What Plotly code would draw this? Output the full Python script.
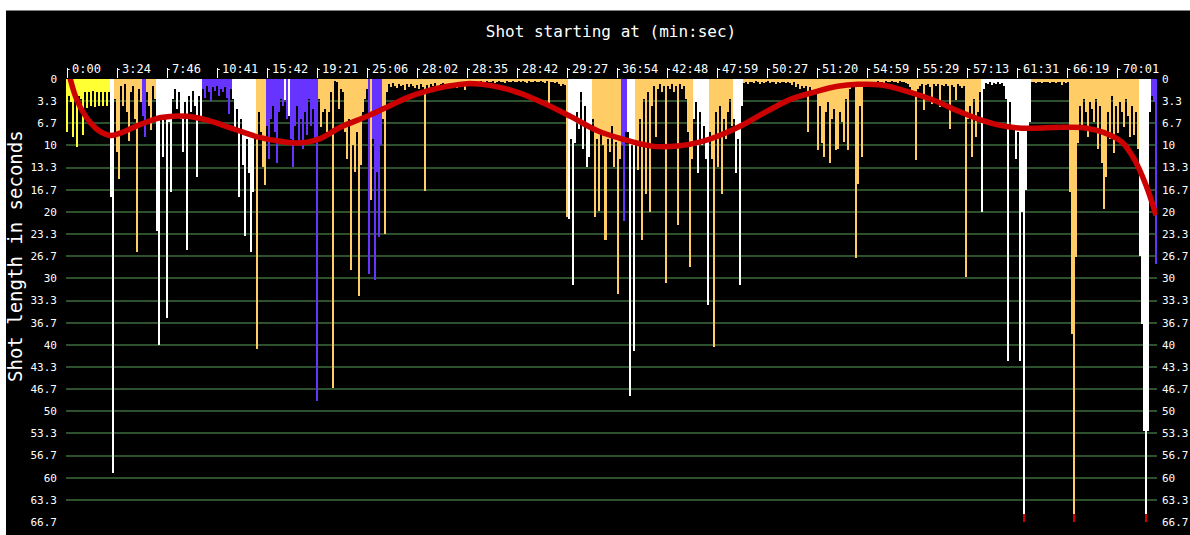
import plotly.graph_objects as go

# ---- colours of the scene groups ----
YEL = "#ffff33"
ORA = "#ffcc66"
WHT = "#ffffff"
BLU = "#6633ff"

# ---- shot lengths (seconds), grouped by scene colour, in shot order ----
s01_y = [8.0, 2.5, 3.5, 8.7, 2.2, 10.3, 2.5, 3.0, 8.4, 2.0, 4.3, 2.0, 4.0, 1.8, 4.2, 2.0, 4.0, 1.9, 4.1, 2.0, 4.0, 2.0]
s02_w = [17.8, 59.3]
s03_o = [3.0, 11.0, 15.0, 1.0, 4.0, 0.8, 5.0, 9.4, 2.0, 1.0, 6.0, 26.0, 1.5, 3.5]
s04_b = [5.5, 8.7]
s05_o = [2.0, 4.0, 7.7, 1.0, 3.0]
s06_w = [22.9, 40.0, 6.0, 11.7, 5.5, 36.0, 6.5, 17.0, 3.0, 1.5, 4.5, 2.0, 6.0, 11.0, 3.5, 25.8, 2.5, 5.0, 1.8, 4.0, 14.8, 2.5, 6.0]
s07_b = [1.5, 2.8, 1.0, 2.0, 3.3, 1.2, 1.8, 1.0, 2.5, 1.5, 2.0, 1.2, 2.8, 5.2, 1.5]
s08_w = [3.0, 8.0, 4.5, 17.8, 6.0, 13.0, 23.6, 9.0, 14.2, 26.0, 17.0, 8.6]
s09_o = [40.6, 5.0, 8.0, 13.2, 15.9]
s10_b = [7.0, 12.0, 6.0, 4.0, 8.0, 12.7, 5.0, 3.0, 4.0]
s11_w = [3.2]
s12_b = [6.0]
s13_w = [5.5]
s14_b = [9.0, 13.2, 7.0, 4.0, 9.5, 6.0, 10.5, 5.0, 8.5, 3.0, 7.0, 4.5, 9.0, 48.4]
s15_o = [3.0, 7.2, 5.0, 4.5, 8.0, 5.0, 2.0, 46.5, 0.3, 0.4, 4.5, 1.5, 2.0, 8.0, 12.0, 6.0, 28.8, 10.0, 14.0, 8.0, 32.6, 13.0, 5.0, 3.0, 1.5]
s16_b = [29.3]
s17_o = [18.2]
s18_b = [9.0, 30.3, 14.0, 23.8, 10.0]
s19_o = [6.0, 23.3, 2.0,
         0.8, 1.2, 0.6, 1.0, 1.4, 0.7, 1.1, 0.9, 1.6, 0.8, 1.2, 0.7, 1.0, 1.3,
         0.9, 1.5, 0.8, 1.2, 16.8,
         0.9, 1.3, 0.7, 1.1, 0.6, 1.0, 1.4, 0.8, 0.6, 1.2, 0.9, 0.7, 1.1, 0.6, 0.9, 1.3, 0.7, 0.8, 1.0, 1.7,
         0.5, 0.3, 0.6, 0.4, 0.3, 0.7, 0.4, 0.3, 0.5, 0.6, 0.3, 0.4, 0.5, 0.3, 0.6, 0.4, 0.3, 0.5, 0.4, 0.6, 0.3, 0.4, 0.5, 0.3, 0.4,
         0.4, 0.3, 0.5, 0.3, 0.4, 0.6, 0.3, 0.5, 0.4, 0.3, 0.5, 0.4, 0.3, 0.4, 0.6, 0.3, 3.6, 0.5, 0.4, 0.6, 0.5, 0.8, 1.0, 0.7, 0.9, 20.8]
s20_w = [21.0, 9.0, 31.0, 9.7, 5.0, 7.5, 2.0, 10.5, 4.0, 13.2, 11.7, 7.0]
s21_o = [6.0, 20.8, 9.0, 19.8, 8.0, 10.0, 24.3, 9.0, 11.0, 7.0, 13.2, 9.5, 32.3, 12.0]
s22_b = [10.0, 21.3, 8.0]
s23_w = [8.0, 47.7, 10.0, 41.0]
s24_o = [9.2, 13.7, 6.0, 24.3, 3.0, 17.3, 2.0, 20.0, 4.0, 1.0, 8.7, 1.5, 0.8, 2.0, 1.0, 30.7, 1.0, 1.5, 0.8, 2.0, 1.0, 22.0, 0.8, 1.5, 1.0, 3.0, 8.0, 28.3, 12.0]
s25_w = [6.0, 3.5, 14.2, 5.0, 10.0, 7.0, 12.0, 34.0]
s26_o = [8.0, 12.0, 40.3, 5.0, 13.2, 4.0, 17.3, 6.0, 9.0, 5.0, 3.0, 7.0]
s27_w = [6.0, 14.2, 9.0, 31.0, 4.0]
s28_o = [0.6, 0.4, 0.7, 0.5, 0.4, 0.6, 0.3, 0.5, 0.7, 0.4, 0.6, 0.5, 0.3, 0.6, 0.4, 0.5, 0.7, 0.4, 0.6, 0.5, 0.4, 0.6, 0.5,
         0.6, 0.9, 0.5, 1.2, 0.8, 1.5, 1.0, 1.3, 1.1, 7.9, 1.2, 1.6, 2.0, 1.5,
         10.7, 4.0, 9.7, 11.7, 5.0, 3.5, 12.7, 6.0, 4.5, 10.7, 10.5, 5.0, 6.5, 9.5, 3.0, 10.7, 1.5, 1.0, 0.8, 27.0, 15.8, 4.0, 11.7,
         0.6, 0.4, 0.8, 0.5, 0.7, 0.4, 0.6, 0.3, 0.5, 0.4, 0.6, 0.3, 0.5, 0.4, 0.3, 0.5, 0.4, 0.6, 0.3, 0.5, 0.4, 0.6, 0.8, 1.2, 1.8, 2.2, 12.2, 1.5,
         1.0, 0.8, 4.7, 0.9, 0.7, 1.2, 3.8, 0.8, 1.0, 0.7, 4.2, 0.9, 1.1, 0.8, 1.0, 7.5, 0.9, 1.2, 3.2, 0.8, 1.0, 1.3, 1.1, 29.8,
         6.0, 4.0, 11.7, 3.0, 8.7, 5.0, 2.0]
s29_w = [20.0, 1.5, 0.6, 0.8, 0.5, 0.9, 0.6, 0.7, 0.5, 0.8, 0.6, 1.0, 3.0, 42.4, 3.5,
         7.5, 7.2, 12.0, 8.0, 42.4, 20.0, 80.0, 16.7, 7.0, 6.5]
s30_o = [0.5, 0.4, 0.6, 0.5, 0.4, 0.6, 0.5, 0.4, 0.5, 0.6, 0.4, 0.5, 0.6, 0.5, 0.4, 0.9, 0.5, 0.6, 0.5,
         17.0, 38.4, 80.0, 26.8,
         9.7, 4.0, 7.0, 3.0, 5.0, 8.7, 3.5, 4.5, 6.5, 3.0, 10.5, 4.0, 12.7, 19.5, 14.7, 5.0, 9.0, 2.5, 11.2, 4.0,
         8.2, 3.5, 5.0, 7.2, 3.0, 5.5, 8.8, 4.0, 8.4, 5.0, 10.5]
s31_w = [26.7, 36.8, 52.9, 80.0, 52.9, 5.0]
s32_b = [2.5, 3.5, 27.8]

scenes = [
    (YEL, s01_y), (WHT, s02_w), (ORA, s03_o), (BLU, s04_b), (ORA, s05_o), (WHT, s06_w),
    (BLU, s07_b), (WHT, s08_w), (ORA, s09_o), (BLU, s10_b), (WHT, s11_w), (BLU, s12_b),
    (WHT, s13_w), (BLU, s14_b), (ORA, s15_o), (BLU, s16_b), (ORA, s17_o), (BLU, s18_b),
    (ORA, s19_o), (WHT, s20_w), (ORA, s21_o), (BLU, s22_b), (WHT, s23_w), (ORA, s24_o),
    (WHT, s25_w), (ORA, s26_o), (WHT, s27_w), (ORA, s28_o), (WHT, s29_w), (ORA, s30_o),
    (WHT, s31_w), (BLU, s32_b),
]

# ---- axis labels ----
x_labels = ["0:00", "3:24", "7:46", "10:41", "15:42", "19:21", "25:06", "28:02", "28:35",
            "28:42", "29:27", "36:54", "42:48", "47:59", "50:27", "51:20", "54:59", "55:29",
            "57:13", "61:31", "66:19", "70:01"]
x_ticks = [25 * i for i in range(len(x_labels))]
y_labels = ["0", "3.3", "6.7", "10", "13.3", "16.7", "20", "23.3", "26.7", "30", "33.3",
            "36.7", "40", "43.3", "46.7", "50", "53.3", "56.7", "60", "63.3", "66.7"]
y_ticks = [i * 10 / 3 for i in range(len(y_labels))]
Y_MAX = 200 / 3

# ---- smoothed trend (red) ----
trend_x = [0, 5, 12, 17, 22, 27, 37, 47, 60, 70, 84, 95, 105, 112, 120, 127, 137, 150, 160, 170,
           180, 190, 200, 212, 225, 238, 252, 265, 277, 292, 305, 316, 326, 337, 350, 362, 373,
           385, 395, 407, 420, 433, 445, 455, 465, 477, 493, 507, 514, 520, 527, 533, 539, 544]
trend_y = [-2.1, 3.2, 6.7, 8.0, 8.5, 8.1, 6.8, 5.8, 5.6, 6.2, 7.6, 8.7, 9.3, 9.6, 9.5, 8.9, 7.2, 5.6,
           4.2, 2.8, 1.8, 1.1, 0.7, 1.0, 2.0, 3.6, 5.7, 7.8, 9.0, 10.1, 10.1, 9.5, 8.5, 7.0, 4.8,
           3.0, 2.0, 1.1, 0.8, 0.9, 1.9, 3.2, 4.8, 6.0, 6.9, 7.4, 7.3, 7.3, 7.7, 8.3, 9.5, 12.0,
           16.0, 20.5]

lengths, colors = [], []
for col, seg in scenes:
    lengths += seg
    colors += [col] * len(seg)
shots = list(range(len(lengths)))
clipped = [i for i, v in enumerate(lengths) if v > Y_MAX]

MONO = "DejaVu Sans Mono"

fig = go.Figure()
fig.add_bar(x=shots, y=lengths, width=1, marker=dict(color=colors, line=dict(width=0)),
            hoverinfo="skip")
fig.add_bar(x=clipped, y=[1.2] * len(clipped), base=[Y_MAX - 1.2] * len(clipped), width=1,
            marker=dict(color="#cc0000", line=dict(width=0)), hoverinfo="skip")
fig.add_scatter(x=trend_x, y=trend_y, mode="lines", cliponaxis=False,
                line=dict(color="#cc0000", width=5.5, shape="spline"), hoverinfo="skip")
fig.add_scatter(x=[None], y=[None], yaxis="y2", mode="markers", hoverinfo="skip")

n = len(lengths)
L, R, T, B = 66, 33, 79, 13
PW = 1190 - L - R
PH = 535 - T - B


def px_x(p):
    return (p - L) / PW


def px_y(p):
    return (535 - B - p) / PH


annotations = []
for xv, lab in zip(x_ticks, x_labels):
    annotations.append(dict(x=xv + 1.4, y=1, xref="x", yref="paper", text=lab,
                            showarrow=False, xanchor="left", yanchor="bottom", yshift=1,
                            font=dict(family=MONO, size=12, color="white")))
annotations.append(dict(x=px_x(15), y=px_y(256), xref="paper", yref="paper",
                        text="Shot length in seconds", textangle=-90, showarrow=False,
                        xanchor="center", yanchor="middle",
                        font=dict(family=MONO, size=19, color="white")))

shapes = [
    dict(type="rect", xref="paper", yref="paper", x0=px_x(0), x1=px_x(1190),
         y0=px_y(10.5), y1=px_y(0), fillcolor="white", line=dict(width=0)),
    dict(type="rect", xref="paper", yref="paper", x0=px_x(0), x1=px_x(6),
         y0=px_y(535), y1=px_y(0), fillcolor="white", line=dict(width=0)),
]
for xv in x_ticks:
    shapes.append(dict(type="line", xref="x", yref="paper", x0=xv, x1=xv + 1.3,
                       y0=px_y(69.5), y1=px_y(69.5), line=dict(color="white", width=1)))

fig.update_layout(
    width=1190, height=535,
    margin=dict(l=L, r=R, t=T, b=B, autoexpand=False),
    paper_bgcolor="black", plot_bgcolor="black",
    showlegend=False, barmode="overlay", bargap=0,
    title=dict(text="Shot starting at (min:sec)", x=611 / 1190, xanchor="center",
               y=1 - 31 / 535, yanchor="middle", xref="container", yref="container",
               font=dict(family=MONO, size=16, color="white")),
    xaxis=dict(range=[-0.5, n - 0.5], side="top", tickvals=x_ticks, showticklabels=False,
               ticks="outside", ticklen=10, tickcolor="white", tickwidth=1,
               showgrid=False, zeroline=False, showline=False),
    yaxis=dict(range=[Y_MAX, 0], tickvals=y_ticks, ticktext=y_labels,
               showgrid=True, gridcolor="#2d502d", gridwidth=2, zeroline=False,
               ticks="", ticklabelstandoff=8,
               tickfont=dict(family=MONO, size=11, color="white")),
    yaxis2=dict(range=[Y_MAX, 0], overlaying="y", side="right", tickvals=y_ticks,
                ticktext=y_labels, showgrid=False, zeroline=False, ticks="",
                ticklabelstandoff=4, tickfont=dict(family=MONO, size=11, color="white")),
    annotations=annotations,
    shapes=shapes,
)

fig.write_html("out.html", config={"displayModeBar": False},
               post_script="document.body.style.margin='0';document.body.style.overflow='hidden';")
